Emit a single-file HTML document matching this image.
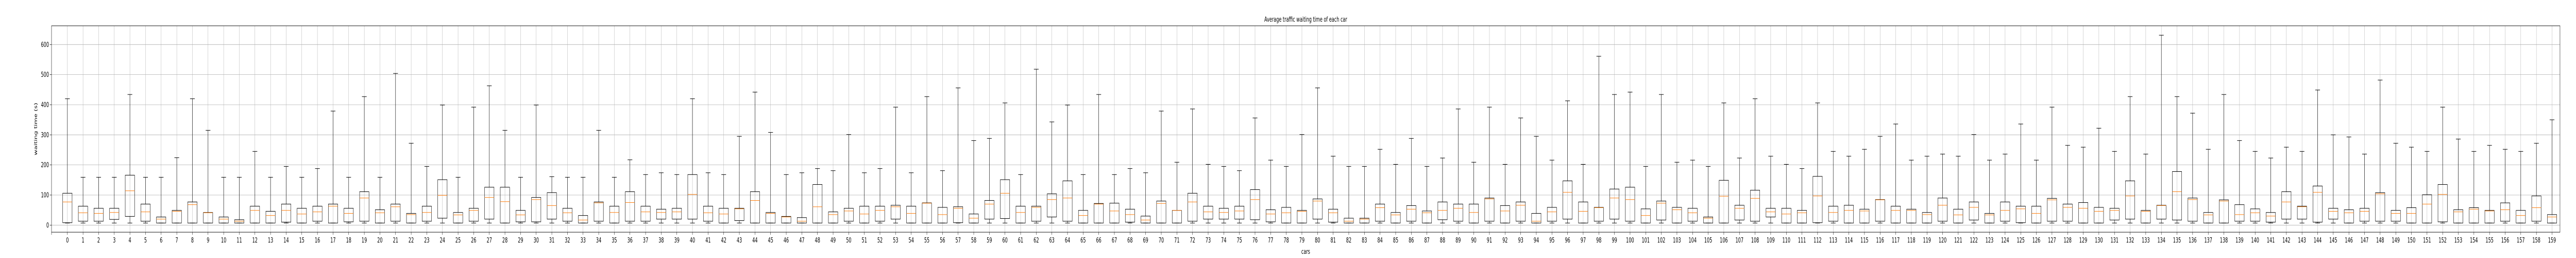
<!DOCTYPE html>
<html><head><meta charset="utf-8">
<style>
html,body{margin:0;padding:0;background:#fff;width:100%;height:100%;overflow:hidden;}
svg{display:block;font-family:"DejaVu Sans","Liberation Sans",sans-serif;width:100vw;height:100vh;}
</style></head>
<body>
<svg id="chart" viewBox="0 0 8000 500" preserveAspectRatio="none" xmlns="http://www.w3.org/2000/svg">
<rect x="0" y="0" width="8000" height="500" fill="#fff"/>
<text x="4055" y="42" text-anchor="middle" font-size="13" fill="#000">Average traffic waiting time of each car</text>
<text x="4055" y="492" text-anchor="middle" font-size="13" fill="#000">cars</text>
<text transform="translate(115,250) rotate(-90)" text-anchor="middle" font-size="13" fill="#000">waiting time (s)</text>
<g id="grid"></g>
<g id="boxes"></g>
<g id="axes"></g>
</svg>
<script>
const yTicks = [0,100,200,300,400,500,600];
const whiskerHigh = [420,159,159,159,434,159,159,224,420,315,159,159,245,159,195,159,188,379,159,427,
159,504,272,195,399,159,392,463,315,159,399,161,159,159,315,159,217,168,174,168,
420,174,168,295,442,308,168,174,188,181,301,174,188,392,174,427,181,456,281,288,
406,168,518,343,399,168,434,168,188,174,379,209,386,202,195,181,356,216,195,301,
456,229,195,195,252,202,288,195,223,386,209,392,202,356,295,216,413,202,561,434,
442,195,434,209,216,195,406,223,420,229,202,188,406,245,229,252,295,336,216,229,
236,229,301,216,236,336,216,392,265,259,322,245,427,236,631,427,372,252,434,281,
245,223,259,245,449,300,293,236,482,272,259,245,392,286,245,265,252,245,272,350];
const q3Values = [106,63,56,56,166,70,27,49,77,42,27,18,63,46,70,56,63,70,56,111,
51,70,39,63,151,42,56,126,126,49,92,108,56,32,77,63,111,63,53,56,
168,63,56,56,111,42,29,25,135,44,56,63,63,66,63,74,59,61,37,82,
151,63,63,104,147,49,72,73,53,30,80,49,106,63,56,63,118,51,59,49,
87,53,23,23,70,42,65,47,77,70,70,90,65,77,39,59,147,77,59,120,
126,54,80,59,56,27,149,66,116,56,56,49,162,63,66,53,85,63,53,42,
90,53,77,39,77,63,63,89,70,75,59,56,147,49,66,178,90,42,84,68,
54,42,111,63,130,56,51,56,108,49,58,101,135,51,58,49,74,49,97,35];
const medianValues = [77,41,39,42,114,44,20,46,68,41,20,13,49,32,49,37,44,63,39,90,
41,61,35,42,99,34,49,92,78,34,85,65,41,17,74,42,75,44,42,44,
102,41,37,54,82,39,27,13,61,35,47,37,49,61,39,73,35,56,23,70,
106,42,59,85,90,32,70,47,35,17,72,49,77,44,42,47,85,37,41,46,
80,41,13,20,58,34,53,41,49,56,42,87,47,66,13,44,109,46,58,90,
85,32,73,51,41,23,96,56,89,44,37,41,97,42,49,47,84,49,49,35,
66,34,59,34,49,54,39,84,59,56,46,49,97,46,65,111,85,34,80,35,
41,30,77,61,109,46,41,46,104,39,39,70,102,44,53,47,51,32,58,27];
const q1Values = [8,13,13,19,29,13,7,7,7,7,7,7,7,7,10,7,13,7,11,13,
7,13,7,13,23,7,13,20,7,11,11,20,13,7,13,7,13,13,20,20,
20,13,7,15,7,7,7,7,7,7,13,7,13,20,7,7,7,8,7,20,
22,7,13,27,13,7,7,7,10,7,7,7,13,20,20,20,18,11,7,7,
20,10,7,7,13,7,13,7,18,13,7,13,7,13,7,13,20,7,13,20,
13,7,17,7,13,7,7,17,13,27,7,7,8,13,7,7,13,7,7,7,
13,7,17,7,13,8,7,13,13,7,7,17,20,7,20,17,13,7,7,13,
13,10,20,20,10,20,7,13,13,13,7,7,11,7,7,7,13,7,13,7];
const whiskerLow = new Array(160).fill(7);

const NS = 'http://www.w3.org/2000/svg';
const X0 = 209.3, DX = 48.53, AX_L = 160, AX_R = 7950.3, AX_T = 50, AX_B = 450;
function xPos(i){ return X0 + i*DX; }
function yPos(v){ return 436.3 - v*0.58333; }
function mk(tag, attrs, parent){
  const e = document.createElementNS(NS, tag);
  for (const k in attrs) e.setAttribute(k, attrs[k]);
  parent.appendChild(e);
  return e;
}
const grid = document.getElementById('grid');
const boxes = document.getElementById('boxes');
const axes = document.getElementById('axes');

yTicks.forEach(function(t){
  const y = yPos(t);
  const g = mk('line', {x1:AX_L, x2:AX_R, y1:y, y2:y, stroke:'#b0b0b0', 'stroke-width':0.8}, grid);
  
  
  const tk = mk('line', {x1:AX_L-5, x2:AX_L, y1:y, y2:y, stroke:'#000', 'stroke-width':0.8}, axes);
  
  
  const lb = mk('text', {x:AX_L-8, y:y+4.5, 'text-anchor':'end', 'font-size':13, fill:'#000'}, axes);
  lb.textContent = String(t);
  
  
});
const edgeTick = mk('line', {x1:AX_L, x2:AX_L, y1:AX_B, y2:AX_B+5, stroke:'#000', 'stroke-width':0.8}, axes);



for (let i = 0; i < whiskerHigh.length; i++){
  const x = xPos(i);
  const vg = mk('line', {x1:x, x2:x, y1:AX_T, y2:AX_B, stroke:'#b0b0b0', 'stroke-width':0.8}, grid);
  
  
  const tk = mk('line', {x1:x, x2:x, y1:AX_B, y2:AX_B+5, stroke:'#000', 'stroke-width':0.8}, axes);
  
  
  const lb = mk('text', {x:x, y:AX_B+20, 'text-anchor':'middle', 'font-size':13, fill:'#000'}, axes);
  lb.textContent = String(i);
  
  

  const g = mk('g', {}, boxes);
  
  
  const hw = 14.55, cw = 7.3;
  const yh = yPos(whiskerHigh[i]), yq3 = yPos(q3Values[i]), ym = yPos(medianValues[i]), yq1 = yPos(q1Values[i]), yl = yPos(whiskerLow[i]);
  const wu = mk('line', {x1:x, x2:x, y1:yh, y2:yq3, stroke:'#000', 'stroke-width':1}, g);
  
  
  const wl = mk('line', {x1:x, x2:x, y1:yq1, y2:yl, stroke:'#000', 'stroke-width':1}, g);
  
  
  const cu = mk('line', {x1:x-cw, x2:x+cw, y1:yh, y2:yh, stroke:'#000', 'stroke-width':1}, g);
  
  
  const cl = mk('line', {x1:x-cw, x2:x+cw, y1:yl, y2:yl, stroke:'#000', 'stroke-width':1}, g);
  
  
  const r = mk('rect', {x:x-hw, y:yq3, width:2*hw, height:Math.max(0.5, yq1-yq3), fill:'none', stroke:'#000', 'stroke-width':1}, g);
  
  
  const m = mk('line', {x1:x-hw, x2:x+hw, y1:ym, y2:ym, stroke:'#ff7f0e', 'stroke-width':1}, g);
  
  
}
const frame = mk('rect', {x:AX_L, y:AX_T, width:AX_R-AX_L, height:AX_B-AX_T, fill:'none', stroke:'#000', 'stroke-width':0.9}, axes);


</script>
</body></html>
